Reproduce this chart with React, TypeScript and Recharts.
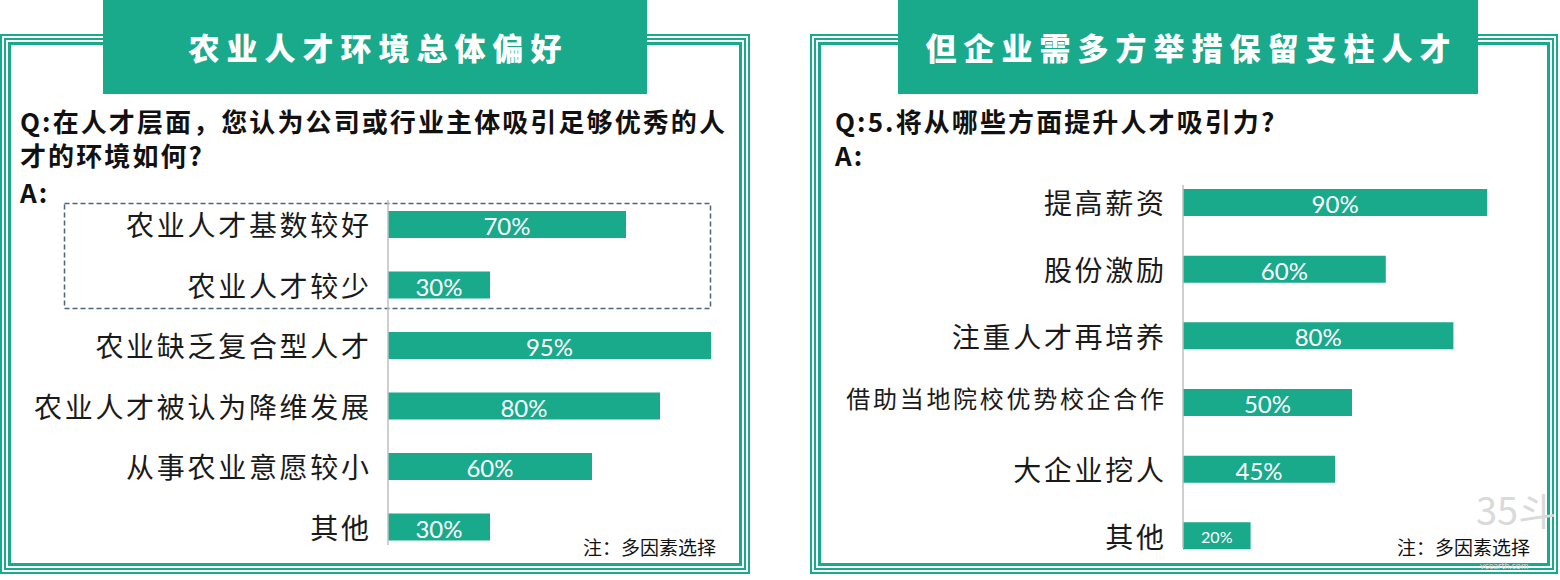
import React from "react";
import { BarChart, Bar, XAxis, YAxis, LabelList } from "recharts";

const leftCategories = ["农业人才基数较好", "农业人才较少", "农业缺乏复合型人才", "农业人才被认为降维发展", "从事农业意愿较小", "其他"];
const leftValues = [70, 30, 95, 80, 60, 30];
const rightCategories = ["提高薪资", "股份激励", "注重人才再培养", "借助当地院校优势校企合作", "大企业挖人", "其他"];
const rightValues = [90, 60, 80, 50, 45, 20];
const smallLabels = ["借助当地院校优势校企合作"];

const leftTitle = "农业人才环境总体偏好";
const rightTitle = "但企业需多方举措保留支柱人才";
const leftQuestion = ["Q:在人才层面，您认为公司或行业主体吸引足够优秀的人", "才的环境如何?"];
const rightQuestion = ["Q:5.将从哪些方面提升人才吸引力?"];
const noteText = "注：多因素选择";

const TEAL = "#19A98B";
const CJK = "'Noto Sans CJK SC', 'Noto Sans', sans-serif";
const NUM = "Lato, 'Noto Sans', sans-serif";

const leftData = leftCategories.map((name, i) => ({ name, value: leftValues[i] }));
const rightData = rightCategories.map((name, i) => ({ name, value: rightValues[i] }));

const Frame = ({ left, width }: { left: number; width: number }) => (
  <>
    <div style={{ position: "absolute", left, top: 34, width: width, height: 540, border: `2px solid ${TEAL}`, boxSizing: "border-box" }} />
    <div style={{ position: "absolute", left: left + 4, top: 38, width: width - 8, height: 532, border: `2px solid ${TEAL}`, boxSizing: "border-box" }} />
    <div style={{ position: "absolute", left: left + 8, top: 42, width: width - 16, height: 524, border: `3px solid ${TEAL}`, boxSizing: "border-box" }} />
  </>
);

const Title = ({ left, width, text }: { left: number; width: number; text: string }) => (
  <div
    style={{
      position: "absolute",
      left,
      top: 0,
      width,
      height: 94,
      background: TEAL,
      color: "#fff",
      display: "flex",
      alignItems: "center",
      justifyContent: "center",
      fontFamily: CJK,
      fontWeight: 900,
      fontSize: 31,
      letterSpacing: 7,
      paddingLeft: 7,
      paddingBottom: 2,
      boxSizing: "border-box",
    }}
  >
    {text}
  </div>
);

const qStyle: React.CSSProperties = {
  position: "absolute",
  fontFamily: CJK,
  fontWeight: 700,
  fontSize: 26,
  letterSpacing: 2.1,
  color: "#111",
  lineHeight: "34px",
  whiteSpace: "nowrap",
};

const makeTick = (gap: number) => (props: any) => {
  const { x, y, payload } = props;
  const small = smallLabels.includes(String(payload.value));
  const fs = small ? 24 : 28;
  const ls = 2.7;
  return (
    <text
      x={x - gap + ls}
      y={y + (small ? -5 : 0)}
      textAnchor="end"
      dominantBaseline="central"
      fontFamily={CJK}
      fontSize={fs}
      letterSpacing={ls}
      fill="#1a1a1a"
    >
      {payload.value}
    </text>
  );
};

const BarLabel = (props: any) => {
  const { x, y, width, height, value } = props;
  const small = value <= 20;
  return (
    <text
      x={x + width / 2}
      y={y + height / 2 + 1}
      textAnchor="middle"
      dominantBaseline="central"
      fill="#fff"
      fontFamily={NUM}
      fontSize={small ? 16 : 24}
    >
      {`${value}%`}
    </text>
  );
};

export default function App() {
  return (
    <div style={{ position: "relative", width: 1560, height: 580, background: "#fff", overflow: "hidden" }}>
      <style>{"body{margin:0}"}</style>
      <Frame left={0} width={750} />
      <Frame left={810} width={748} />
      <Title left={103} width={544} text={leftTitle} />
      <Title left={898} width={580} text={rightTitle} />

      <div style={{ ...qStyle, left: 20, top: 104 }}>
        {leftQuestion.map((l, i) => (
          <div key={i}>{l}</div>
        ))}
        <div style={{ marginTop: 3 }}>A:</div>
      </div>
      <div style={{ ...qStyle, left: 835, top: 104 }}>
        {rightQuestion.map((l, i) => (
          <div key={i}>{l}</div>
        ))}
        <div>A:</div>
      </div>

      <svg style={{ position: "absolute", left: 0, top: 0 }} width={750} height={580}>
        <rect x={64.5} y={203.5} width={646} height={105} fill="none" stroke="#4e6480" strokeWidth={1.5} strokeDasharray="5 3" />
      </svg>

      <div style={{ position: "absolute", left: 0, top: 0 }}>
        <BarChart width={750} height={580} data={leftData} layout="vertical" margin={{ top: 200, right: 22, bottom: 35, left: 0 }}>
          <XAxis type="number" domain={[0, 100]} hide />
          <YAxis
            type="category"
            dataKey="name"
            width={388}
            padding={{ top: -6, bottom: -12 }}
            tickLine={false}
            tickSize={0}
            tickMargin={0}
            axisLine={{ stroke: "#bfbfbf", strokeWidth: 1.5 }}
            tick={makeTick(19)}
            interval={0}
          />
          <Bar dataKey="value" fill={TEAL} barSize={27} isAnimationActive={false}>
            <LabelList dataKey="value" content={BarLabel} />
          </Bar>
        </BarChart>
      </div>

      <div style={{ position: "absolute", left: 810, top: 0 }}>
        <BarChart width={750} height={580} data={rightData} layout="vertical" margin={{ top: 185, right: 39, bottom: 32, left: 0 }}>
          <XAxis type="number" domain={[0, 100]} hide />
          <YAxis
            type="category"
            dataKey="name"
            width={373}
            padding={{ top: -16, bottom: -21 }}
            tickLine={false}
            tickSize={0}
            tickMargin={0}
            axisLine={{ stroke: "#bfbfbf", strokeWidth: 1.5 }}
            tick={makeTick(19)}
            interval={0}
          />
          <Bar dataKey="value" fill={TEAL} barSize={27} isAnimationActive={false}>
            <LabelList dataKey="value" content={BarLabel} />
          </Bar>
        </BarChart>
      </div>

      <div style={{ position: "absolute", left: 1476, top: 488, fontFamily: CJK, fontSize: 38, color: "#dadada", lineHeight: "42px" }}>35斗</div>
      <div style={{ position: "absolute", left: 1480, top: 561, fontFamily: NUM, fontSize: 9, color: "#dadada", lineHeight: "9px" }}>vcearth.com</div>

      <div style={{ position: "absolute", left: 583, top: 535, fontFamily: CJK, fontSize: 19, color: "#111", lineHeight: "24px" }}>{noteText}</div>
      <div style={{ position: "absolute", left: 1397, top: 535, fontFamily: CJK, fontSize: 19, color: "#111", lineHeight: "24px" }}>{noteText}</div>
    </div>
  );
}
